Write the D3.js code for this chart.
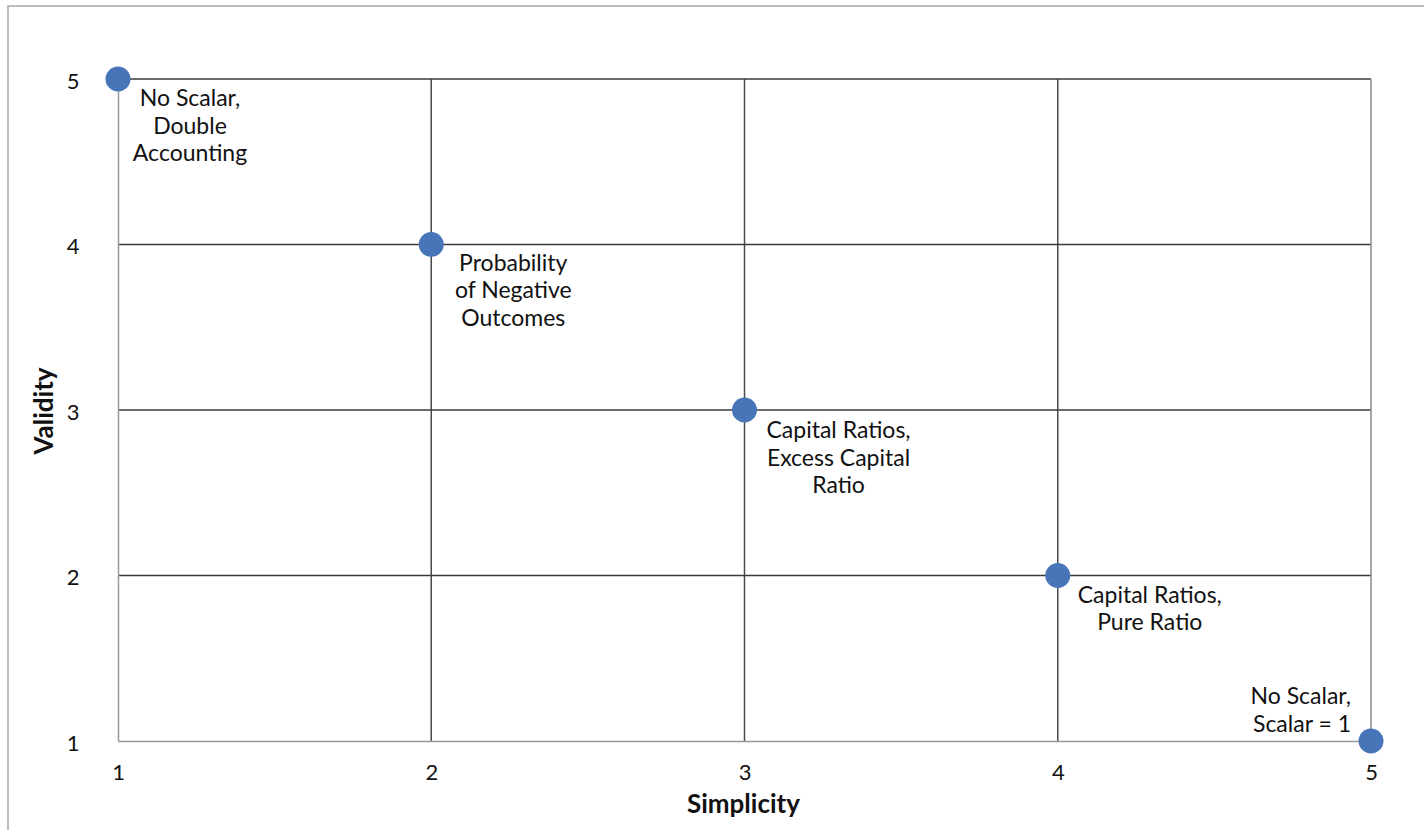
<!DOCTYPE html>
<html>
<head>
<meta charset="utf-8">
<script src="https://cdn.jsdelivr.net/npm/d3@7"></script>
<style>
  html, body { margin: 0; padding: 0; background: #fff; overflow: hidden; }
  svg { display: block; }
  text { font-family: Lato, "Liberation Sans", sans-serif; fill: #111; }
</style>
</head>
<body>
<svg id="chart" width="1424" height="830"></svg>
<script>
// ---- data ----
const simplicity = [1, 2, 3, 4, 5];
const validity   = [5, 4, 3, 2, 1];
const pointLabels = [
  ["No Scalar,", "Double", "Accounting"],
  ["Probability", "of Negative", "Outcomes"],
  ["Capital Ratios,", "Excess Capital", "Ratio"],
  ["Capital Ratios,", "Pure Ratio"],
  ["No Scalar,", "Scalar = 1"]
];
const xTicks = [1, 2, 3, 4, 5];
const yTicks = [1, 2, 3, 4, 5];
const xTitle = "Simplicity";
const yTitle = "Validity";

// ---- styles / layout ----
const plot = { left: 118, right: 1371, top: 79, bottom: 741 };
const labelOffsets = [
  { dx: 72, dy: 19, anchor: "middle" },
  { dx: 82, dy: 18, anchor: "middle" },
  { dx: 94, dy: 20, anchor: "middle" },
  { dx: 92, dy: 19, anchor: "middle" },
  { dx: -20, dy: -45, anchor: "end" }
];
const lineHeight = 27.5;
const dotColor = "#4775b8";
const fontStack = "Lato, 'Liberation Sans', sans-serif";

const svg = d3.select("#chart");

// outer frame
svg.append("rect")
  .attr("x", 8).attr("y", 6)
  .attr("width", 1440).attr("height", 860)
  .attr("fill", "none").attr("stroke", "#a6a6a6").attr("stroke-width", 1.5);

const x = d3.scaleLinear().domain([1, 5]).range([plot.left, plot.right]);
const y = d3.scaleLinear().domain([1, 5]).range([plot.bottom, plot.top]);

// vertical grid lines (dark)
svg.append("g").selectAll("line")
  .data(xTicks.filter(t => t !== 1 && t !== 5))
  .join("line")
  .attr("x1", d => x(d)).attr("x2", d => x(d))
  .attr("y1", y(5)).attr("y2", y(1))
  .attr("stroke", "#4a4a4a").attr("stroke-width", 1.5);

// horizontal grid lines (dark), including top
svg.append("g").selectAll("line")
  .data(yTicks.filter(t => t !== 1))
  .join("line")
  .attr("x1", x(1)).attr("x2", x(5))
  .attr("y1", d => y(d)).attr("y2", d => y(d))
  .attr("stroke", "#3a3a3a").attr("stroke-width", 1.5);

// right border (gray)
svg.append("line")
  .attr("x1", x(5)).attr("x2", x(5)).attr("y1", y(5)).attr("y2", y(1))
  .attr("stroke", "#8a8a8a").attr("stroke-width", 1.5);

// axes (light gray lines, no ticks)
const xAxis = d3.axisBottom(x).tickValues(xTicks).tickSize(0).tickPadding(0).tickFormat(d3.format("d"));
const gx = svg.append("g").attr("transform", `translate(0,${plot.bottom})`).call(xAxis);
gx.select(".domain").attr("stroke", "#999").attr("stroke-width", 1.5);
gx.selectAll("text").attr("font-size", 22).attr("dy", null).attr("y", 39)
  .style("font-family", fontStack).attr("fill", "#111");

const yAxis = d3.axisLeft(y).tickValues(yTicks).tickSize(0).tickPadding(0).tickFormat(d3.format("d"));
const gy = svg.append("g").attr("transform", `translate(${plot.left},0)`).call(yAxis);
gy.select(".domain").attr("stroke", "#999").attr("stroke-width", 1.5);
gy.selectAll("text").attr("font-size", 22).attr("text-anchor", "middle")
  .attr("x", 73 - plot.left).attr("dy", "0.42em")
  .style("font-family", fontStack).attr("fill", "#111");

// axis titles
svg.append("text")
  .attr("x", (plot.left + plot.right) / 2 - 1).attr("y", 813)
  .attr("text-anchor", "middle").attr("font-size", 26).attr("font-weight", "bold")
  .text(xTitle);
svg.append("text")
  .attr("transform", `translate(53,${(plot.top + plot.bottom) / 2 + 1}) rotate(-90)`)
  .attr("text-anchor", "middle").attr("font-size", 26).attr("font-weight", "bold")
  .text(yTitle);

// points
const pts = simplicity.map((s, i) => ({ s, v: validity[i], lines: pointLabels[i], off: labelOffsets[i] }));
svg.append("g").selectAll("circle")
  .data(pts).join("circle")
  .attr("cx", d => x(d.s)).attr("cy", d => y(d.v)).attr("r", 12.5)
  .attr("fill", dotColor);

// labels
const lg = svg.append("g").selectAll("text")
  .data(pts).join("text")
  .attr("font-size", 23)
  .attr("text-anchor", d => d.off.anchor)
  .attr("transform", d => `translate(${x(d.s) + d.off.dx},${y(d.v) + d.off.dy})`);
lg.selectAll("tspan")
  .data(d => d.lines)
  .join("tspan")
  .attr("x", 0)
  .attr("y", (l, i) => i * lineHeight)
  .attr("dy", "0.35em")
  .text(l => l);
</script>
</body>
</html>
